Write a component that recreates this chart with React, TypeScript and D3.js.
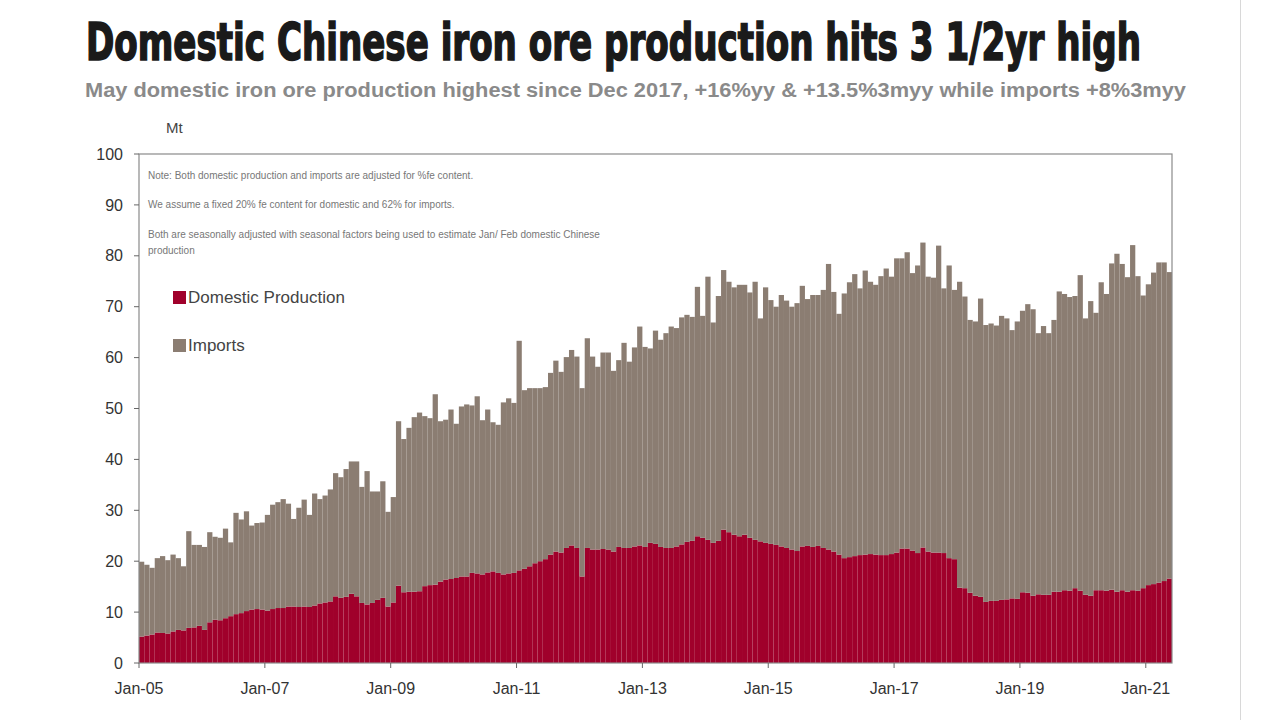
import React from "react";
import * as d3 from "d3";

const TITLE = "Domestic Chinese iron ore production hits 3 1/2yr high";
const SUBTITLE = "May domestic iron ore production highest since Dec 2017, +16%yy & +13.5%3myy while imports +8%3myy";
const NOTES = [
  "Note: Both domestic production and imports are adjusted for %fe content.",
  "We assume a fixed 20% fe content for domestic and 62% for imports.",
  "Both are seasonally adjusted with seasonal factors being used to estimate Jan/ Feb domestic Chinese",
  "production",
];
const SERIES_NAMES = ["Domestic Production", "Imports"];
const Y_TICKS = [0, 10, 20, 30, 40, 50, 60, 70, 80, 90, 100];
const X_TICK_LABELS = ["Jan-05", "Jan-07", "Jan-09", "Jan-11", "Jan-13", "Jan-15", "Jan-17", "Jan-19", "Jan-21"];

// monthly, Jan-05 .. May-21 (Mt)
const domestic = [
  5.2, 5.4, 5.6, 6.0, 5.9, 5.8, 6.2, 6.5, 6.4, 6.9, 7.0, 7.3,
  6.5, 8.0, 8.5, 8.4, 8.8, 9.2, 9.6, 9.8, 10.2, 10.5, 10.6, 10.5,
  10.3, 10.6, 10.8, 10.8, 11.1, 11.1, 11.0, 11.1, 11.0, 11.3, 11.7, 11.9,
  12.1, 13.1, 12.8, 13.0, 13.6, 13.1, 11.8, 11.5, 11.8, 12.4, 12.8, 11.1,
  11.9, 15.2, 13.9, 14.0, 14.0, 14.1, 15.1, 15.3, 15.4, 16.0, 16.4, 16.5,
  16.7, 17.0, 17.0, 17.7, 17.6, 17.4, 17.8, 18.0, 17.7, 17.4, 17.6, 17.7,
  18.2, 18.5, 19.0, 19.6, 20.0, 20.4, 21.3, 21.9, 21.7, 22.6, 23.1, 22.6,
  17.0, 22.6, 22.3, 22.3, 22.4, 22.3, 21.9, 22.8, 22.6, 22.6, 22.9, 23.1,
  22.8, 23.6, 23.4, 22.8, 22.6, 22.6, 22.9, 23.3, 23.8, 24.0, 24.9, 24.6,
  24.2, 23.6, 24.0, 26.2, 25.7, 25.2, 24.9, 25.2, 24.6, 24.2, 23.9, 23.6,
  23.4, 23.2, 22.9, 22.6, 22.3, 22.0, 22.9, 23.0, 22.8, 23.0, 22.6, 22.3,
  21.9, 21.3, 20.6, 20.8, 21.0, 21.2, 21.3, 21.4, 21.3, 21.2, 21.2, 21.4,
  21.7, 22.5, 22.5, 22.1, 21.6, 22.7, 21.9, 21.7, 21.7, 21.6, 20.6, 20.4,
  14.8, 14.7, 13.8, 13.2, 13.0, 12.0, 12.2, 12.2, 12.4, 12.5, 12.7, 12.6,
  13.9, 13.8, 13.2, 13.5, 13.4, 13.4, 14.0, 14.0, 14.3, 14.2, 14.7, 14.2,
  13.4, 13.2, 14.3, 14.3, 14.2, 14.4, 14.0, 14.3, 14.0, 14.3, 14.2, 14.7,
  15.3, 15.5, 15.8, 16.1, 16.6,
];

const imports = [
  14.7, 13.9, 13.1, 14.6, 15.1, 14.4, 15.1, 14.1, 12.6, 19.0, 16.2, 15.9,
  16.3, 17.7, 16.3, 16.2, 17.6, 14.5, 19.9, 18.4, 19.6, 16.5, 16.9, 17.1,
  18.8, 20.5, 20.8, 21.4, 20.2, 17.2, 19.5, 21.0, 18.1, 22.0, 20.5, 21.0,
  22.0, 24.2, 23.7, 25.1, 26.0, 26.5, 22.8, 26.2, 21.9, 21.3, 22.9, 18.6,
  20.7, 32.3, 30.1, 32.2, 34.3, 35.1, 33.4, 32.8, 37.4, 31.5, 31.4, 33.3,
  30.3, 33.4, 33.8, 32.9, 34.8, 30.3, 32.0, 29.3, 29.1, 33.8, 34.4, 33.4,
  45.1, 35.1, 35.0, 34.4, 34.0, 33.8, 35.7, 37.5, 35.5, 37.5, 38.4, 37.6,
  37.0, 41.2, 37.9, 35.9, 38.6, 38.7, 35.5, 36.7, 40.3, 36.6, 39.1, 43.0,
  39.3, 38.2, 41.9, 40.7, 42.2, 43.5, 42.9, 44.6, 44.6, 44.0, 49.0, 43.6,
  51.7, 43.3, 48.1, 51.0, 49.2, 48.6, 49.4, 49.1, 48.2, 50.7, 43.8, 50.2,
  47.9, 46.8, 49.4, 48.6, 47.7, 48.7, 51.2, 48.5, 49.5, 49.3, 50.7, 56.1,
  51.0, 47.3, 52.0, 54.0, 55.4, 52.4, 55.8, 53.5, 53.0, 54.8, 56.3, 54.5,
  57.8, 57.0, 58.2, 54.5, 56.5, 59.9, 54.0, 54.0, 60.3, 52.0, 57.5, 52.9,
  60.1, 57.3, 53.6, 53.9, 58.6, 54.4, 54.5, 54.1, 55.8, 55.2, 52.7, 54.5,
  55.3, 56.7, 56.3, 51.3, 52.8, 51.4, 53.4, 59.0, 58.2, 57.7, 57.4, 62.0,
  54.3, 57.9, 54.5, 60.5, 58.3, 64.1, 66.4, 64.1, 61.8, 67.8, 61.8, 57.5,
  59.1, 61.2, 62.9, 62.6, 60.2,
];

const COLORS = ["#a0002b", "#8b7d72"];

export default function App() {
  const W = 1279, H = 720;
  const left = 139, right = 1172, top = 154, bottom = 663;
  const n = domestic.length;
  const months = d3.range(n);
  const x = d3.scaleBand<number>().domain(months).range([left, right]).paddingInner(0).paddingOuter(0);
  const y = d3.scaleLinear().domain([0, 100]).range([bottom, top]);
  const table = months.map((i) => ({ i, domestic: domestic[i], imports: imports[i] }));
  const stacked = d3.stack<any>().keys(["domestic", "imports"])(table);
  const axisFont = "'Liberation Sans', Arial, sans-serif";
  const bw = x.bandwidth();

  return (
    <svg width={W} height={H} style={{ position: "absolute", left: 0, top: 0, background: "#fff" }}>
      <rect x={0} y={0} width={W} height={H} fill="#fff" />
      <line x1={1240.5} x2={1240.5} y1={0} y2={H} stroke="#d8d8d8" strokeWidth={1} />
      <g transform="translate(86,60) scale(1,1.3)">
        <text x={0} y={0} fontFamily="'Liberation Sans Narrow', 'DejaVu Sans Condensed', Arial, sans-serif"
          fontWeight="bold" fontSize={40} fill="#1a1a1a" stroke="#1a1a1a" strokeWidth={1.3}
          textLength={1055} lengthAdjust="spacingAndGlyphs">{TITLE}</text>
      </g>
      <text x={85} y={97} fontFamily={axisFont} fontWeight="bold" fontSize={20} fill="#8a8a8a"
        textLength={1101} lengthAdjust="spacingAndGlyphs">{SUBTITLE}</text>
      <text x={166} y={133} fontFamily={axisFont} fontSize={15} fill="#444">Mt</text>

      {stacked.map((s, si) => (
        <g key={si} fill={COLORS[si]}>
          {s.map((d: any, j: number) => (
            <rect key={j} x={x(j)!} y={y(d[1])} width={bw} height={Math.max(0, y(d[0]) - y(d[1]))} />
          ))}
        </g>
      ))}

      <rect x={left} y={top} width={right - left} height={bottom - top} fill="none" stroke="#8a8a8a" strokeWidth={1.2} />

      {Y_TICKS.map((t) => (
        <g key={t}>
          <line x1={left - 5} x2={left} y1={y(t)} y2={y(t)} stroke="#666" />
          <text x={123} y={y(t)} dy="0.35em" textAnchor="end" fontFamily={axisFont} fontSize={16} fill="#333">{t}</text>
        </g>
      ))}

      {X_TICK_LABELS.map((lab, k) => {
        const xi = x(k * 24)!;
        return (
          <g key={lab}>
            <line x1={xi} x2={xi} y1={bottom} y2={bottom + 5} stroke="#666" />
            <text x={xi} y={694} textAnchor="middle" fontFamily={axisFont} fontSize={16} fill="#333">{lab}</text>
          </g>
        );
      })}

      {NOTES.map((t, k) => (
        <text key={k} x={148} y={[179, 208, 238, 254][k]} fontFamily={axisFont} fontSize={10} fill="#777">{t}</text>
      ))}

      {SERIES_NAMES.map((name, k) => (
        <g key={name}>
          <rect x={173} y={[291, 339][k]} width={13} height={13} fill={COLORS[k]} />
          <text x={188} y={[303, 351][k]} fontFamily={axisFont} fontSize={17} fill="#444">{name}</text>
        </g>
      ))}
    </svg>
  );
}
